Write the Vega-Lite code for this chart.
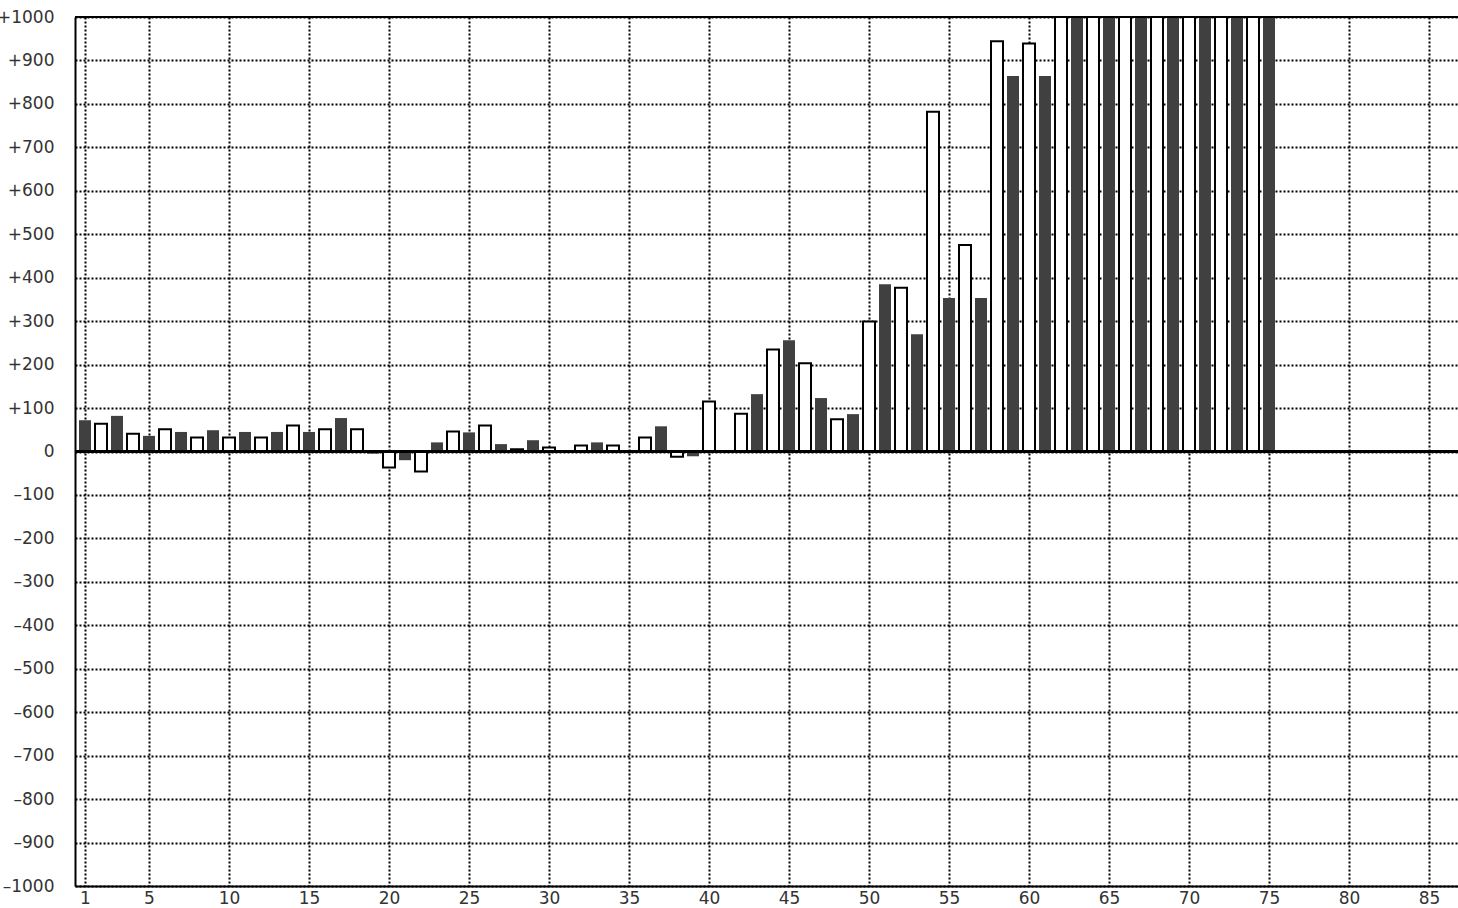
{
  "$schema": "https://vega.github.io/schema/vega-lite/v6.json",
  "width": 1383,
  "height": 869,
  "autosize": {"type": "none"},
  "padding": {"left": 75, "top": 17, "right": 0, "bottom": 22},
  "background": "white",
  "config": {
    "view": {"stroke": null},
    "axis": {
      "labelFont": "DejaVu Sans",
      "labelFontSize": 17,
      "labelColor": "#333333",
      "gridColor": "black",
      "gridDash": [2, 2],
      "gridWidth": 2,
      "gridOpacity": 1,
      "domainColor": "black",
      "domainWidth": 2,
      "ticks": false,
      "title": null
    }
  },
  "data": {
    "values": [
      {"n": 1, "v": 72, "group": "A"},
      {"n": 2, "v": 64, "group": "B"},
      {"n": 3, "v": 82, "group": "A"},
      {"n": 4, "v": 41, "group": "B"},
      {"n": 5, "v": 36, "group": "A"},
      {"n": 6, "v": 51, "group": "B"},
      {"n": 7, "v": 45, "group": "A"},
      {"n": 8, "v": 32, "group": "B"},
      {"n": 9, "v": 49, "group": "A"},
      {"n": 10, "v": 32, "group": "B"},
      {"n": 11, "v": 45, "group": "A"},
      {"n": 12, "v": 32, "group": "B"},
      {"n": 13, "v": 45, "group": "A"},
      {"n": 14, "v": 60, "group": "B"},
      {"n": 15, "v": 45, "group": "A"},
      {"n": 16, "v": 51, "group": "B"},
      {"n": 17, "v": 77, "group": "A"},
      {"n": 18, "v": 51, "group": "B"},
      {"n": 19, "v": -5, "group": "A"},
      {"n": 20, "v": -37, "group": "B"},
      {"n": 21, "v": -20, "group": "A"},
      {"n": 22, "v": -46, "group": "B"},
      {"n": 23, "v": 21, "group": "A"},
      {"n": 24, "v": 46, "group": "B"},
      {"n": 25, "v": 44, "group": "A"},
      {"n": 26, "v": 60, "group": "B"},
      {"n": 27, "v": 17, "group": "A"},
      {"n": 28, "v": 5, "group": "B"},
      {"n": 29, "v": 26, "group": "A"},
      {"n": 30, "v": 9, "group": "B"},
      {"n": 31, "v": 0, "group": "A"},
      {"n": 32, "v": 14, "group": "B"},
      {"n": 33, "v": 21, "group": "A"},
      {"n": 34, "v": 14, "group": "B"},
      {"n": 35, "v": 0, "group": "A"},
      {"n": 36, "v": 32, "group": "B"},
      {"n": 37, "v": 58, "group": "A"},
      {"n": 38, "v": -12, "group": "B"},
      {"n": 39, "v": -11, "group": "A"},
      {"n": 40, "v": 115, "group": "B"},
      {"n": 41, "v": 0, "group": "A"},
      {"n": 42, "v": 87, "group": "B"},
      {"n": 43, "v": 132, "group": "A"},
      {"n": 44, "v": 235, "group": "B"},
      {"n": 45, "v": 256, "group": "A"},
      {"n": 46, "v": 203, "group": "B"},
      {"n": 47, "v": 123, "group": "A"},
      {"n": 48, "v": 74, "group": "B"},
      {"n": 49, "v": 86, "group": "A"},
      {"n": 50, "v": 299, "group": "B"},
      {"n": 51, "v": 385, "group": "A"},
      {"n": 52, "v": 377, "group": "B"},
      {"n": 53, "v": 270, "group": "A"},
      {"n": 54, "v": 782, "group": "B"},
      {"n": 55, "v": 353, "group": "A"},
      {"n": 56, "v": 475, "group": "B"},
      {"n": 57, "v": 353, "group": "A"},
      {"n": 58, "v": 944, "group": "B"},
      {"n": 59, "v": 864, "group": "A"},
      {"n": 60, "v": 939, "group": "B"},
      {"n": 61, "v": 864, "group": "A"},
      {"n": 62, "v": 1500, "group": "B"},
      {"n": 63, "v": 1500, "group": "A"},
      {"n": 64, "v": 1500, "group": "B"},
      {"n": 65, "v": 1500, "group": "A"},
      {"n": 66, "v": 1500, "group": "B"},
      {"n": 67, "v": 1500, "group": "A"},
      {"n": 68, "v": 1500, "group": "B"},
      {"n": 69, "v": 1500, "group": "A"},
      {"n": 70, "v": 1500, "group": "B"},
      {"n": 71, "v": 1500, "group": "A"},
      {"n": 72, "v": 1500, "group": "B"},
      {"n": 73, "v": 1500, "group": "A"},
      {"n": 74, "v": 1500, "group": "B"},
      {"n": 75, "v": 1500, "group": "A"}
    ]
  },
  "layer": [
    {
      "transform": [{"filter": "datum.group === 'A'"}],
      "mark": {"type": "bar", "width": 12, "fill": "#404040", "clip": true},
      "encoding": {
        "x": {
          "field": "n",
          "type": "quantitative",
          "scale": {"domain": [0.375, 86.8125], "nice": false, "zero": false, "padding": 0},
          "axis": {
            "values": [1, 5, 10, 15, 20, 25, 30, 35, 40, 45, 50, 55, 60, 65, 70, 75, 80, 85],
            "labelPadding": 4,
            "labelFlush": false,
            "labelOverlap": false
          }
        },
        "y": {
          "field": "v",
          "type": "quantitative",
          "scale": {"domain": [-1000, 1000], "nice": false, "padding": 0},
          "axis": {
            "values": [-1000, -900, -800, -700, -600, -500, -400, -300, -200, -100, 0, 100, 200, 300, 400, 500, 600, 700, 800, 900, 1000],
            "labelPadding": 21,
            "labelFlush": false,
            "labelOverlap": false,
            "labelExpr": "datum.value > 0 ? '+' + datum.value : (datum.value < 0 ? '\u2013' + abs(datum.value) : '0')"
          }
        }
      }
    },
    {
      "transform": [{"filter": "datum.group === 'B'"}],
      "mark": {"type": "bar", "width": 12, "fill": "white", "stroke": "black", "strokeWidth": 2, "clip": true},
      "encoding": {
        "x": {"field": "n", "type": "quantitative"},
        "y": {"field": "v", "type": "quantitative"}
      }
    },
    {
      "mark": {"type": "rule", "color": "black", "strokeWidth": 2},
      "encoding": {"y": {"datum": 0}}
    },
    {
      "mark": {"type": "rule", "color": "black", "strokeWidth": 2},
      "encoding": {"y": {"datum": 1000}}
    }
  ]
}
